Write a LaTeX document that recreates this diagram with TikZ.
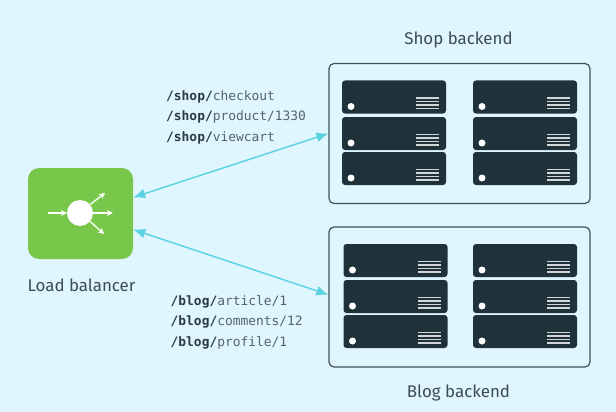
\documentclass[tikz,border=0pt]{standalone}
\usepackage{fontspec}
\setmainfont{Fira Sans}
\setmonofont{DejaVu Sans Mono}
\usetikzlibrary{arrows.meta}
\definecolor{bgc}{HTML}{DFF6FF}
\definecolor{lbgreen}{HTML}{78C64A}
\definecolor{dark}{HTML}{1F3239}
\definecolor{link}{HTML}{5AD2E0}
\definecolor{txt}{HTML}{3C4B57}
\definecolor{urlc}{HTML}{56636C}
\definecolor{urlb}{HTML}{2B3A42}
\newcommand{\urlhead}[1]{\textbf{\textcolor{urlb}{#1}}}
\tikzset{
  backendbox/.style={draw=dark!85,line width=1.2pt,rounded corners=5pt,minimum width=261pt,minimum height=140pt,inner sep=0pt},
  srv/.style={fill=dark,rounded corners=3pt,minimum width=104pt,minimum height=33pt,inner sep=0pt},
  lbox/.style={fill=lbgreen,rounded corners=11pt,minimum width=105pt,minimum height=91pt,inner sep=0pt},
  hub/.style={circle,fill=white,minimum size=26pt,inner sep=0pt},
  conn/.style={draw=link,line width=1.4pt,{Latex[length=12pt,width=10pt]}-{Latex[length=12pt,width=10pt]}},
  spoke/.style={draw=white,line width=1.3pt,-{Stealth[length=6pt,width=6pt]}},
  label/.style={font=\fontsize{16.9}{20}\selectfont,text=txt,inner sep=0pt},
  urls/.style={font=\ttfamily\fontsize{12.9}{20.7}\selectfont,text=urlc,align=left,inner sep=0pt,anchor=north west},
  led/.style={circle,fill=white,minimum size=7pt,inner sep=0pt},
  vent/.style={draw=white!80!dark,line width=1.7pt}
}
\newcommand{\rackunit}[3]{%
  \node[srv] (#3) at (#1,#2) {};
  \node[led] (#3led) at (#1-43,#2+9.5) {};
  \draw[vent] (#1+22,#2+1) -- (#1+45,#2+1) (#1+22,#2+4.5) -- (#1+45,#2+4.5) (#1+22,#2+8) -- (#1+45,#2+8) (#1+22,#2+11.5) -- (#1+45,#2+11.5);%
}
\begin{document}
\begin{tikzpicture}[x=1pt,y=-1pt]
\path[fill=bgc,use as bounding box] (0,0) rectangle (616,412);
\node[backendbox] (shop) at (459.5,133.5) {};
\node[backendbox] (blog) at (459.5,297) {};
\node[lbox] (lb) at (80.5,213.5) {};
\node[hub] (hubc) at (80,213) {};
\coordinate (inp) at (48,213);
\coordinate (o1) at (113,213);
\coordinate (o2) at (105,193);
\coordinate (o3) at (104,234);
\draw[spoke] (inp) -- (hubc.west);
\draw[spoke] (hubc.east) -- (o1);
\draw[spoke] (hubc.40) -- (o2);
\draw[spoke] (hubc.-40) -- (o3);
\rackunit{394}{97}{sa}
\rackunit{394}{133.5}{sb}
\rackunit{394}{168.5}{sc}
\rackunit{525}{97}{sd}
\rackunit{525}{133.5}{se}
\rackunit{525}{168.5}{sf}
\rackunit{395.5}{260.5}{ba}
\rackunit{395.5}{296.5}{bb}
\rackunit{395.5}{331.5}{bc}
\rackunit{525}{260.5}{bd}
\rackunit{525}{296.5}{be}
\rackunit{525}{331.5}{bf}
\draw[conn] (lb.17.4) -- (shop.west);
\draw[conn] (lb.-17.4) -- (blog.179);
\node[label] (shopl) at (458.5,39.5) {Shop backend};
\node[label] (blogl) at (458.5,393) {Blog backend};
\node[label] (lbl) at (81.5,285) {Load balancer};
\node[urls] (shopurls) at (166,90) {\urlhead{/shop/}checkout\\\urlhead{/shop/}product/1330\\\urlhead{/shop/}viewcart};
\node[urls] (blogurls) at (170.5,295) {\urlhead{/blog/}article/1\\\urlhead{/blog/}comments/12\\\urlhead{/blog/}profile/1};
\end{tikzpicture}
\end{document}
